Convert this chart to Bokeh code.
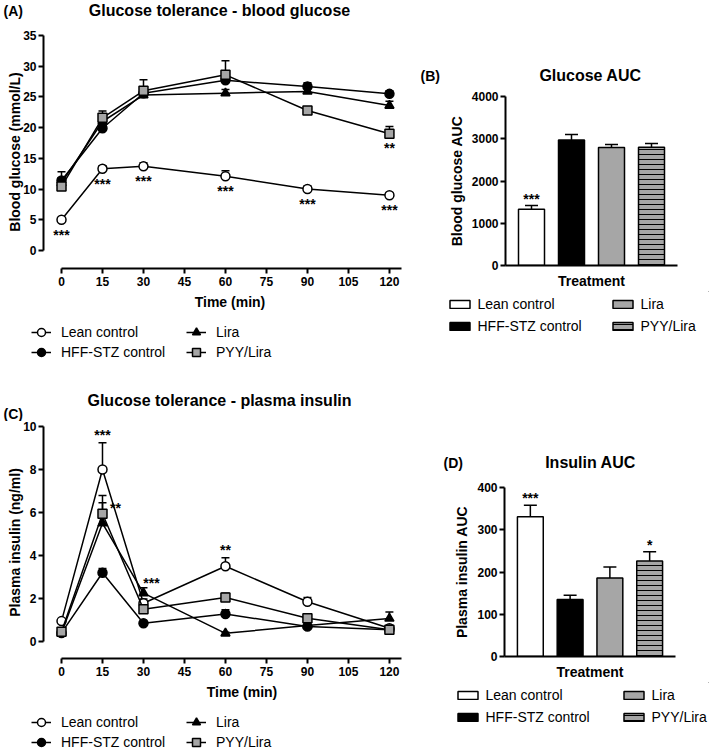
from bokeh.plotting import figure
from bokeh.models import (ColumnDataSource, Whisker, TeeHead, Legend, LegendItem, Label,
                          Range1d, FixedTicker)
from bokeh.layouts import column, row
from bokeh.embed import file_html
from bokeh.resources import INLINE
from bokeh.core.properties import value

FONT = "Liberation Sans"

# ---------------- data ----------------
times = [0, 15, 30, 60, 90, 120]
time_ticks = [0, 15, 30, 45, 60, 75, 90, 105, 120]
groups = ["Lean control", "HFF-STZ control", "Lira", "PYY/Lira"]

glucose_lean = [5.0, 13.3, 13.7, 12.1, 10.0, 9.0]
glucose_lean_sem = [0.3, 0.5, 0.6, 0.9, 0.5, 0.4]
glucose_hff = [11.4, 19.9, 25.6, 27.7, 26.7, 25.5]
glucose_hff_sem = [1.4, 0.5, 0.5, 0.6, 0.6, 0.5]
glucose_lira = [11.0, 21.0, 25.3, 25.6, 25.9, 23.6]
glucose_lira_sem = [0.8, 0.6, 0.5, 0.6, 0.6, 0.7]
glucose_pyy = [10.4, 21.6, 26.0, 28.6, 22.8, 19.0]
glucose_pyy_sem = [1.0, 1.1, 1.8, 2.3, 0.4, 1.2]
glucose_ticks = [0, 5, 10, 15, 20, 25, 30, 35]
glucose_lean_stars = ["***", "***", "***", "***", "***", "***"]
glucose_pyy_stars = ["", "", "", "", "", "**"]

insulin_lean = [0.95, 8.0, 1.78, 3.5, 1.85, 0.62]
insulin_lean_sem = [0.05, 1.25, 0.2, 0.4, 0.2, 0.05]
insulin_hff = [0.4, 3.2, 0.85, 1.28, 0.7, 0.55]
insulin_hff_sem = [0.05, 0.2, 0.05, 0.2, 0.05, 0.05]
insulin_lira = [0.4, 5.5, 2.25, 0.38, 0.75, 1.07]
insulin_lira_sem = [0.05, 0.95, 0.25, 0.05, 0.05, 0.3]
insulin_pyy = [0.45, 5.94, 1.5, 2.05, 1.08, 0.55]
insulin_pyy_sem = [0.05, 0.85, 0.15, 0.2, 0.15, 0.05]
insulin_ticks = [0, 2, 4, 6, 8, 10]
insulin_lean_stars = ["", "***", "", "**", "", ""]
insulin_lira_stars = ["", "", "***", "", "", ""]
insulin_pyy_stars = ["", "**", "", "", "", ""]

glucose_auc = [1330, 2970, 2790, 2800]
glucose_auc_sem = [90, 130, 75, 90]
glucose_auc_stars = ["***", "", "", ""]
glucose_auc_ticks = [0, 1000, 2000, 3000, 4000]

insulin_auc = [331, 135, 186, 226]
insulin_auc_sem = [27, 10, 26, 22]
insulin_auc_stars = ["***", "", "", "*"]
insulin_auc_ticks = [0, 100, 200, 300, 400]

# ---------------- styles ----------------
markers = ["circle", "circle", "triangle", "square"]
marker_fill = ["white", "black", "black", "#a6a6a6"]
bar_fill = ["white", "black", "#a6a6a6", "#a6a6a6"]
bar_hatch = ["blank", "blank", "blank", "horizontal_line"]


def no_align(p):
    try:
        p.frame_align = False
    except Exception:
        pass


def base_fig(width, height, left, right, top, bottom, x_range, y_range):
    p = figure(width=width, height=height, x_range=x_range, y_range=y_range,
               output_backend="svg", toolbar_location=None, title=None,
               min_border_left=left, min_border_right=right,
               min_border_top=top, min_border_bottom=bottom)
    no_align(p)
    p.outline_line_color = None
    p.xgrid.visible = False
    p.ygrid.visible = False
    p.background_fill_color = None
    p.border_fill_color = None
    for ax in p.axis:
        ax.axis_line_width = 2
        ax.axis_line_color = "black"
        ax.major_tick_line_width = 2
        ax.major_tick_line_color = "black"
        ax.major_tick_out = 5
        ax.major_tick_in = 0
        ax.minor_tick_line_color = None
        ax.major_label_text_font = FONT
        ax.major_label_text_font_style = "bold"
        ax.major_label_text_font_size = "12px"
        ax.major_label_text_color = "black"
        ax.axis_label_text_font = FONT
        ax.axis_label_text_font_style = "bold"
        ax.axis_label_text_font_size = "14px"
        ax.axis_label_text_color = "black"
    return p


def blank_fig(width, height):
    p = figure(width=width, height=height, x_range=Range1d(0, 1), y_range=Range1d(0, 1),
               x_axis_type=None, y_axis_type=None, output_backend="svg",
               toolbar_location=None, title=None, min_border_left=0, min_border_right=0,
               min_border_top=0, min_border_bottom=0)
    no_align(p)
    p.outline_line_color = None
    p.xgrid.visible = False
    p.ygrid.visible = False
    p.background_fill_color = None
    p.border_fill_color = None
    return p


def add_text(p, text, x, y, size, align):
    p.add_layout(Label(x=x, y=y, x_units="screen", y_units="screen", text=text,
                       text_font=FONT, text_font_size=size, text_font_style="bold",
                       text_align=align, text_baseline="middle", text_color="black"))


def add_stars(p, xs, ys, stars, x_off=0, y_off=0):
    keep = [(x, y, s) for x, y, s in zip(xs, ys, stars) if s]
    p.text(x=[k[0] for k in keep], y=[k[1] for k in keep], text=[k[2] for k in keep],
           text_font=value(FONT), text_font_size="14px", text_font_style="bold",
           text_align="center", text_baseline="alphabetic",
           x_offset=x_off, y_offset=y_off, text_color="black")


def line_panel(series, sems, width, height, top, x_end, y_range, y_bounds, yticks, ylabel):
    p = base_fig(width, height, 43, 0, top, 44,
                 Range1d(-6.59, x_end), Range1d(*y_range))
    p.xaxis.bounds = (0, 124.4)
    p.yaxis.bounds = y_bounds
    p.xaxis.ticker = FixedTicker(ticks=time_ticks)
    p.yaxis.ticker = FixedTicker(ticks=yticks)
    p.xaxis.axis_label = "Time (min)"
    p.yaxis.axis_label = ylabel
    p.xaxis.major_label_standoff = 3
    p.xaxis.axis_label_standoff = 5
    p.yaxis.major_label_standoff = 2
    p.yaxis.axis_label_standoff = -3
    for i, (vals, ss) in enumerate(zip(series, sems)):
        src = ColumnDataSource(dict(t=times, v=vals,
                                    up=[v + s for v, s in zip(vals, ss)]))
        p.line("t", "v", source=src, line_color="black", line_width=1.5)
        p.add_layout(Whisker(source=src, base="t", lower="v", upper="up",
                             line_color="black", line_width=1.5,
                             upper_head=TeeHead(size=8, line_color="black", line_width=1.5),
                             lower_head=None))
        p.scatter("t", "v", source=src, marker=markers[i], size=9,
                  fill_color=marker_fill[i], line_color="black", line_width=1.5)
    return p


def line_legend(width, height, loc):
    # legend strip; its proxy glyphs sit outside the visible range
    p = blank_fig(width, height)
    items = []
    for i, name in enumerate(groups):
        lr = p.line(x=[5, 6], y=[5, 5], line_color="black", line_width=1.5)
        sr = p.scatter(x=[5], y=[5], marker=markers[i], size=9, fill_color=marker_fill[i],
                       line_color="black", line_width=1.5)
        items.append(LegendItem(label=name, renderers=[lr, sr]))
    p.add_layout(Legend(items=items, location=loc, orientation="vertical", nrows=2,
                        border_line_color=None, background_fill_alpha=0, padding=0,
                        margin=0, spacing=0, glyph_width=20, glyph_height=20,
                        label_height=17, label_standoff=10, label_width=125,
                        label_text_font=FONT, label_text_font_size="14px",
                        label_text_color="black"))
    return p


def bar_panel(vals, sems, stars, width, height, left, right, y_end, yticks, ylabel):
    p = base_fig(width, height, left, right, 10, 24,
                 Range1d(-0.65, len(groups) - 0.35), Range1d(0, y_end))
    xs = list(range(len(groups)))
    p.yaxis.ticker = FixedTicker(ticks=yticks)
    p.yaxis.bounds = (0, yticks[-1])
    p.yaxis.axis_label = ylabel
    p.yaxis.major_label_standoff = 2
    p.yaxis.axis_label_standoff = 4
    p.xaxis.axis_label = "Treatment"
    p.xaxis.ticker = FixedTicker(ticks=[])
    p.xaxis.major_tick_out = 0
    p.xaxis.major_label_standoff = 0
    p.xaxis.axis_label_standoff = 7
    ups = [v + s for v, s in zip(vals, sems)]
    src = ColumnDataSource(dict(x=xs, v=vals, up=ups, fill=bar_fill, hatch=bar_hatch))
    p.vbar(x="x", top="v", width=0.65, source=src, fill_color="fill",
           line_color="black", line_width=1.5, hatch_pattern="hatch",
           hatch_color="black", hatch_scale=5, hatch_weight=1)
    p.add_layout(Whisker(source=src, base="x", lower="v", upper="up",
                         line_color="black", line_width=1.5,
                         upper_head=TeeHead(size=13, line_color="black", line_width=1.5),
                         lower_head=None))
    add_stars(p, xs, ups, stars, 0, -7)
    return p


def bar_legend(width, height, loc, label_width):
    p = blank_fig(width, height)
    items = []
    for i, name in enumerate(groups):
        r = p.vbar(x=[5], top=[5], bottom=4, width=1, fill_color=bar_fill[i],
                   line_color="black", line_width=1.5, hatch_pattern=bar_hatch[i],
                   hatch_color="black", hatch_scale=5, hatch_weight=1)
        items.append(LegendItem(label=name, renderers=[r]))
    p.add_layout(Legend(items=items, location=loc, orientation="vertical", nrows=2,
                        border_line_color=None, background_fill_alpha=0, padding=0,
                        margin=0, spacing=3, glyph_width=25, glyph_height=10,
                        label_height=19, label_standoff=6, label_width=label_width,
                        label_text_font=FONT, label_text_font_size="14px",
                        label_text_color="black"))
    return p


# ---------------- panel A (x 0-416, y 0-372) ----------------
headA = blank_fig(416, 22)
add_text(headA, "(A)", 3, 12, "14px", "left")
add_text(headA, "Glucose tolerance - blood glucose", 219, 12, "16px", "center")

pA = line_panel([glucose_lean, glucose_hff, glucose_lira, glucose_pyy],
                [glucose_lean_sem, glucose_hff_sem, glucose_lira_sem, glucose_pyy_sem],
                416, 290, 13, 129.9, (-2.93, 35), (0, 35), glucose_ticks,
                "Blood glucose (mmol/L)")
add_stars(pA, times, glucose_lean, glucose_lean_stars, 0, 15)
add_stars(pA, times, glucose_pyy, glucose_pyy_stars, 0, 14)

legA = line_legend(416, 60, (31, 10))

# ---------------- panel B (x 416-709, y 0-372) ----------------
headB = blank_fig(293, 86)
add_text(headB, "(B)", 4, 11, "14px", "left")
add_text(headB, "Glucose AUC", 174, 11, "16px", "center")

pB = bar_panel(glucose_auc, glucose_auc_sem, glucose_auc_stars, 293, 205, 89, 32, 4000,
               glucose_auc_ticks, "Blood glucose AUC")
legB = bar_legend(293, 81, (30.5, 36.5), 129)

# ---------------- panel C (x 0-440, y 372-752) ----------------
headC = blank_fig(440, 49)
add_text(headC, "Glucose tolerance - plasma insulin", 219, 21, "16px", "center")
add_text(headC, "(C)", 3, 8, "14px", "left")

pC = line_panel([insulin_lean, insulin_hff, insulin_lira, insulin_pyy],
                [insulin_lean_sem, insulin_hff_sem, insulin_lira_sem, insulin_pyy_sem],
                440, 281, 5, 138.7, (-0.79, 10), (0, 10), insulin_ticks,
                "Plasma insulin (ng/ml)")
lean_up = [v + s for v, s in zip(insulin_lean, insulin_lean_sem)]
lira_up = [v + s for v, s in zip(insulin_lira, insulin_lira_sem)]
add_stars(pC, times, lean_up, insulin_lean_stars, 0, -8)
add_stars(pC, times, lira_up, insulin_lira_stars, 8, -5)
add_stars(pC, times, insulin_pyy, insulin_pyy_stars, 13, -6)

legC = line_legend(440, 50, (31, 0))

# ---------------- panel D (x 440-709, y 372-752) ----------------
headD = blank_fig(269, 105)
add_text(headD, "(D)", 3, 15, "14px", "left")
add_text(headD, "Insulin AUC", 150, 15, "16px", "center")

pD = bar_panel(insulin_auc, insulin_auc_sem, insulin_auc_stars, 269, 205, 64, 34, 400,
               insulin_auc_ticks, "Plasma insulin AUC")
legD = bar_legend(269, 70, (14.5, 25.5), 132)

layout = column(row(column(headA, pA, legA), column(headB, pB, legB)),
                row(column(headC, pC, legC), column(headD, pD, legD)))
open("out.html", "w").write(file_html(layout, INLINE))
